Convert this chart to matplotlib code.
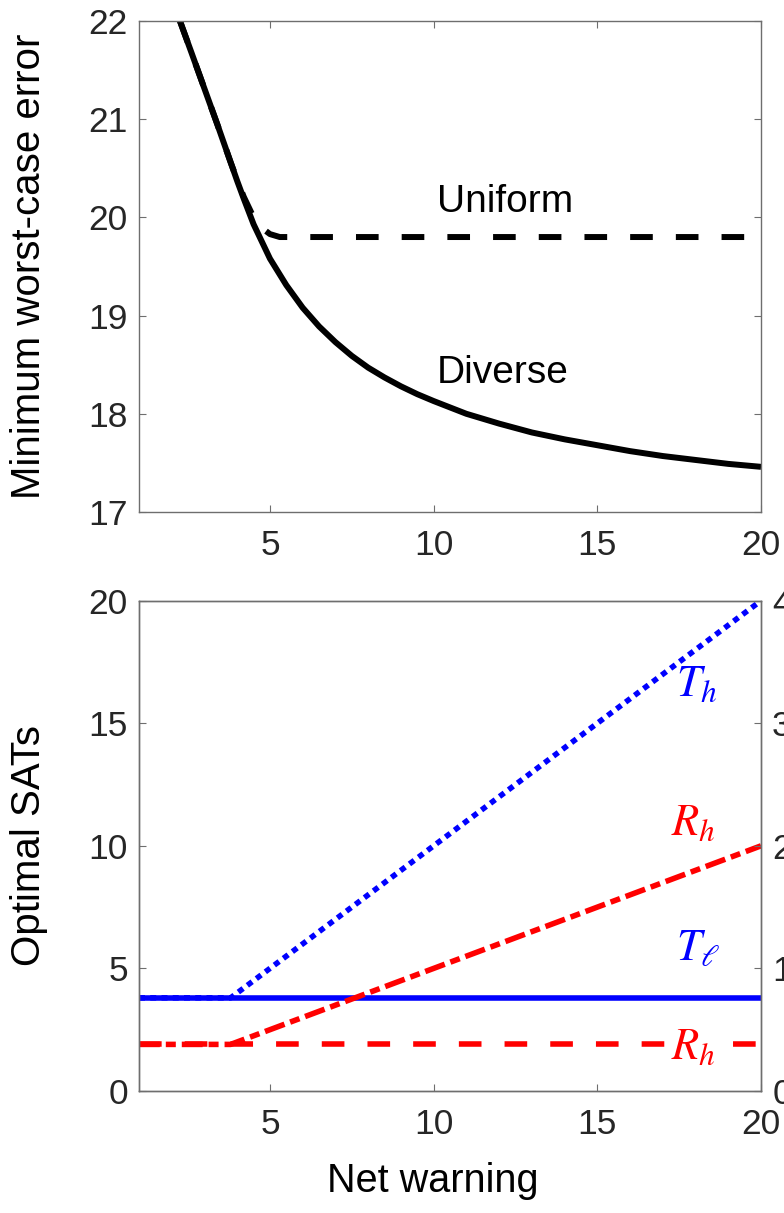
import matplotlib
matplotlib.use("Agg")
import matplotlib.pyplot as plt

plt.rcParams['font.family'] = ['Liberation Sans', 'DejaVu Sans']
plt.rcParams['mathtext.fontset'] = 'stix'
plt.rcParams['lines.scale_dashes'] = False

# Minimum worst-case error vs. net warning
diverse_x = [2.25, 2.6, 3.0, 3.4, 3.8, 4.0, 4.2, 4.5, 5.0, 5.5, 6.0, 6.5, 7.0, 7.5,
             8.0, 8.5, 9.0, 9.5, 10.0, 11.0, 12.0, 13.0, 14.0, 15.0, 16.0, 17.0,
             18.0, 19.0, 20.0]
diverse_y = [22.0, 21.68, 21.31, 20.94, 20.56, 20.37, 20.19, 19.93, 19.58, 19.31,
             19.08, 18.89, 18.73, 18.59, 18.47, 18.37, 18.28, 18.20, 18.13, 18.00,
             17.90, 17.81, 17.74, 17.68, 17.62, 17.57, 17.53, 17.49, 17.46]
uniform_x = [2.25, 2.6, 3.0, 3.4, 3.8, 4.0, 4.2, 4.5, 4.8, 5.0, 5.3, 6.0, 10.0, 15.0, 20.0]
uniform_y = [22.0, 21.68, 21.31, 20.94, 20.56, 20.38, 20.21, 20.0, 19.88, 19.83, 19.80,
             19.80, 19.80, 19.80, 19.80]

# Optimal SATs vs. net warning
sat_x = [1.0, 3.8, 20.0]
t_high = [3.8, 3.8, 20.0]
t_low = [3.8, 3.8, 3.8]
r_high = [1.9, 1.9, 10.0]
r_low = [1.9, 1.9, 1.9]

xticks = [5, 10, 15, 20]
top_yticks = [17, 18, 19, 20, 21, 22]
bottom_yticks = [0, 5, 10, 15, 20]
right_yticks = [0, 1, 2, 3, 4]

TICK_FS = 25.5
LABEL_FS = 29
TEXT_FS = 28
MATH_FS = 32
spine_col = '#6e6e6e'
text_col = '#262626'


def style_axes(ax):
    for s in ax.spines.values():
        s.set_color(spine_col)
        s.set_linewidth(1.0)
    ax.tick_params(direction='in', length=5, width=0.8, color=spine_col,
                   labelsize=TICK_FS, labelcolor=text_col)


fig = plt.figure(figsize=(7.84, 12.13), dpi=100)

# top panel
ax1 = fig.add_axes([0.1773, 0.5779, 0.7934, 0.4048])
ax1.plot(diverse_x, diverse_y, color='black', lw=4.3, solid_capstyle='butt',
         solid_joinstyle='round')
ax1.plot(uniform_x, uniform_y, color='black', lw=4.3, linestyle=(0, (16.3, 16.6)))
ax1.set_xlim(1, 20)
ax1.set_ylim(17, 22)
ax1.set_xticks(xticks)
ax1.set_yticks(top_yticks)
style_axes(ax1)
ax1.tick_params(top=True, right=True, pad=8)
ax1.tick_params(axis='x', pad=12)
ax1.text(10.1, 20.05, 'Uniform', fontsize=TEXT_FS, color='black')
ax1.text(10.1, 18.31, 'Diverse', fontsize=TEXT_FS, color='black')
ax1.set_ylabel('Minimum worst-case error', fontsize=LABEL_FS, color='black')
ax1.yaxis.set_label_coords(-0.147, 0.5)

# bottom panel
ax2 = fig.add_axes([0.1773, 0.1006, 0.7934, 0.4042])
ax2.plot(sat_x, t_low, color='blue', lw=4.0, solid_capstyle='butt')
ax2.plot(sat_x, t_high, color='blue', lw=4.0, linestyle=(0, (4.3, 3.8)))
ax2.plot(sat_x, r_low, color='red', lw=4.0, linestyle=(0, (16.3, 16.6)))
ax2.plot(sat_x, r_high, color='red', lw=4.0, linestyle=(0, (15.0, 4.3, 7.2, 4.3)))
ax2.set_xlim(1, 20)
ax2.set_ylim(0, 20)
ax2.set_xticks(xticks)
ax2.set_yticks(bottom_yticks)
style_axes(ax2)
ax2.tick_params(top=False, right=False, pad=8)
ax2.tick_params(axis='x', pad=12)

ax2.text(17.4, 16.1, r'$T_h$', fontsize=MATH_FS, color='blue')
ax2.text(17.25, 10.45, r'$R_h$', fontsize=MATH_FS, color='red')
ax2.text(17.4, 5.35, r'$T_\ell$', fontsize=MATH_FS, color='blue')
ax2.text(17.25, 1.3, r'$R_h$', fontsize=MATH_FS, color='red', ha='left',
         bbox=dict(facecolor='white', edgecolor='none', pad=0,
                   boxstyle='square,pad=0.05'), zorder=5)

ax2.set_ylabel('Optimal SATs', fontsize=LABEL_FS, color='black')
ax2.yaxis.set_label_coords(-0.147, 0.5)
ax2.set_xlabel('Net warning', fontsize=28.5, color='black')
ax2.xaxis.set_label_coords(0.473, -0.145)

ax3 = ax2.twinx()
ax3.set_ylim(0, 4)
ax3.set_yticks(right_yticks)
style_axes(ax3)
ax3.tick_params(axis='y', pad=8)

fig.savefig('out.png', dpi=100)
plt.close(fig)
